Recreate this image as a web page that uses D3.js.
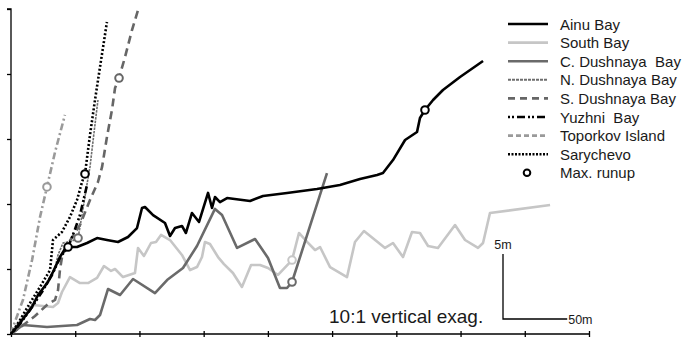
<!DOCTYPE html>
<html><head><meta charset="utf-8">
<script src="https://cdn.jsdelivr.net/npm/d3@7"></script>
<style>
body{margin:0;background:#fff}
svg{display:block}
text{font-family:"Liberation Sans",Arial,Helvetica,sans-serif;fill:#1a1a1a}
</style>
</head><body>
<svg id="chart" width="688" height="337"></svg>
<script>
// ---- data (distance in m, elevation in m) ----
const xTicks = [0, 50, 100, 150, 200, 250, 300, 350, 400, 450];
const yTicks = [0, 5, 10, 15, 20, 25];
const seriesNames = ["Ainu Bay", "South Bay", "C. Dushnaya  Bay", "N. Dushnaya Bay",
                     "S. Dushnaya Bay", "Yuzhni  Bay", "Toporkov Island", "Sarychevo"];

const ainuDist = [0, 7.0, 16.4, 21, 28.8, 32.7, 38.1, 42, 45.9, 51.4, 59.2, 67, 74.7, 83.3, 91.1, 98.1, 102, 104.3, 110.6, 119.9, 123.8, 127.7, 133.1, 136.2, 140.9, 146.4, 153.4, 156.5, 158.8, 162.7, 168.2, 186.1, 196.2, 214.9, 238.2, 256.1, 271.7, 285, 289.6, 297.4, 306.8, 316.1, 318.4, 322.3, 328.6, 336.3, 349.6, 367.5];
const ainuElev = [0, 0.85, 2.08, 3.0, 4.0, 4.77, 5.92, 6.54, 6.69, 6.69, 7.0, 7.38, 7.23, 7.08, 7.46, 8.15, 9.69, 9.77, 9.15, 8.54, 7.54, 8.15, 8.31, 7.77, 9.31, 8.62, 10.85, 9.69, 10.54, 10.15, 10.46, 10.23, 10.62, 10.85, 11.15, 11.46, 11.92, 12.23, 12.38, 13.38, 14.92, 15.54, 16.62, 17.23, 18.0, 18.77, 19.77, 21.0];

const southDist = [0, 8.6, 17.1, 32.7, 36.6, 39.7, 45.9, 53.7, 60, 67, 72.4, 77.9, 81, 87.2, 96.5, 98.9, 103.5, 109, 112.9, 116.8, 123.8, 133.1, 139.4, 144.8, 148.7, 151, 154.9, 161.2, 165.8, 172.8, 179.8, 186.9, 193.9, 200.1, 207.9, 218.8, 224.2, 230.5, 236.7, 240.6, 248.4, 261.6, 267.8, 274.8, 291.2, 297.4, 305.2, 312.2, 318.4, 324.7, 332.4, 345.7, 353.5, 363.6, 367.5, 372.9, 419.7];
const southElev = [0, 1.23, 2.23, 2.08, 2.38, 3.23, 4.38, 3.92, 3.92, 4.31, 5.23, 4.85, 5.0, 4.38, 4.69, 6.62, 6.0, 7.0, 7.08, 7.62, 7.23, 6.08, 4.92, 5.15, 5.92, 7.08, 6.92, 5.92, 5.38, 4.69, 3.62, 5.31, 5.31, 5.08, 4.54, 5.69, 7.77, 7.08, 6.46, 6.69, 5.15, 4.38, 7.08, 7.92, 6.62, 7.0, 5.92, 7.85, 7.77, 6.77, 6.62, 8.38, 7.23, 6.62, 7.0, 9.31, 9.92];

const cDushDist = [0, 9.3, 28, 51.4, 61.5, 65.4, 69.3, 75.5, 84.9, 95, 112.1, 121.5, 133.9, 144.8, 158.8, 164.3, 176, 190, 200.1, 209.4, 214.9, 218.8, 246];
const cDushElev = [0, 0.69, 0.54, 0.69, 1.15, 1.08, 1.46, 3.46, 3.0, 4.23, 3.15, 4.15, 5.08, 6.77, 9.62, 9.15, 6.62, 7.31, 5.85, 3.54, 3.54, 4.0, 12.38];

const nDushDist = [0, 7.0, 17.1, 26.5, 34.3, 36.6, 40.5, 47.5, 52.2, 55.3, 58.4, 61.5, 64.6, 67.7];
const nDushElev = [0, 0.92, 2.38, 3.77, 5.08, 6.08, 7.0, 7.15, 7.38, 9.15, 11.08, 12.85, 15.46, 18.0];

const sDushDist = [0, 8.6, 18.7, 28.8, 34.3, 36.6, 38.1, 39.7, 42.8, 53.7, 61.5, 67.7, 70.9, 74.7, 78.6, 81, 84.1, 88.8, 94.2, 98.9];
const sDushElev = [0, 0.62, 1.38, 2.31, 2.62, 3.38, 4.92, 5.92, 6.69, 8.38, 10.31, 11.69, 12.85, 15.15, 17.23, 18.92, 19.69, 21.31, 23.38, 24.92];

const yuzhniDist = [0, 7.0, 14.8, 24.1, 31.9, 38.1, 44.4, 49.1, 53.7, 56.8, 59.2];
const yuzhniElev = [0, 0.77, 1.85, 3.23, 4.54, 5.85, 6.69, 7.85, 9.15, 10.46, 11.46];

const toporkovDist = [0, 1.6, 9.3, 16.4, 22.6, 28, 34.3, 42];
const toporkovElev = [0, 0.54, 2.62, 5.69, 9.0, 11.31, 14.0, 16.85];

const sarychevoDist = [0, 7.0, 14.8, 22.6, 30.4, 32.7, 39.7, 45.9, 51.4, 55.3, 57.6, 61.5, 65.4, 69.3, 74.7];
const sarychevoElev = [0, 1.08, 2.38, 3.62, 4.92, 7.23, 7.85, 9.0, 10.31, 11.69, 12.31, 15.31, 18.0, 20.54, 24.0];

// max runup points, in seriesNames order
const runupDist = [322.3, 218.8, 218.8, 52.2, 84.1, 44.4, 28, 57.6];
const runupElev = [17.23, 5.69, 4.0, 7.38, 19.69, 6.69, 11.31, 12.31];

const scaleBarDist = 50, scaleBarElev = 5;
const annotation = "10:1 vertical exag.";

// ---- styles ----
const styles = [
  {color: "#000000", width: 2.6, dash: null},
  {color: "#c6c6c6", width: 2.6, dash: null},
  {color: "#6a6a6a", width: 2.6, dash: null},
  {color: "#6e6e6e", width: 1.6, dash: "2.5,1"},
  {color: "#666666", width: 2.6, dash: "8,5"},
  {color: "#000000", width: 2.6, dash: "2,2,2,3,7,3"},
  {color: "#9a9a9a", width: 2.6, dash: "7,3,2,3"},
  {color: "#000000", width: 2.6, dash: "2,2"}
];
const legendStyles = [
  null, null, null,
  {width: 2, dash: "3,1"},
  {width: 2.6, dash: "7,5"},
  {width: 2.6, dash: "2,2,2,3,8,3"},
  {width: 2.6, dash: "5,3"},
  {width: 2.6, dash: "2,1.5"}
];
const seriesData = [
  [ainuDist, ainuElev], [southDist, southElev], [cDushDist, cDushElev], [nDushDist, nDushElev],
  [sDushDist, sDushElev], [yuzhniDist, yuzhniElev], [toporkovDist, toporkovElev], [sarychevoDist, sarychevoElev]
];

const svg = d3.select("#chart");
const x = d3.scaleLinear().domain([0, 450]).range([11, 589]);
const y = d3.scaleLinear().domain([0, 25]).range([334, 9]);

// axes
const yAxis = svg.append("g").attr("transform", `translate(${x(0)},0)`)
  .call(d3.axisLeft(y).tickValues(yTicks).tickSize(4).tickFormat(""));
yAxis.select(".domain").attr("d", `M-4,${y(25)}H0V${y(0)}`).attr("stroke", "#000").attr("stroke-width", 1.3);
yAxis.selectAll(".tick line").attr("stroke-width", 1.3);

const xAxis = svg.append("g").attr("transform", `translate(0,${y(0)})`)
  .call(d3.axisBottom(x).tickValues(xTicks).tickSize(4).tickFormat(""));
xAxis.select(".domain").attr("d", `M${x(0)},0H${x(450)}`).attr("stroke", "#000").attr("stroke-width", 1.3);
xAxis.selectAll(".tick line").attr("y1", -3).attr("y2", 4).attr("stroke-width", 1.3);

// lines
const line = d3.line().x(d => x(d[0])).y(d => y(d[1]));
const drawOrder = [1, 2, 6, 4, 3, 7, 5, 0];
drawOrder.forEach(i => {
  const [xs, ys] = seriesData[i];
  const pts = xs.map((v, k) => [v, ys[k]]);
  const p = svg.append("path").datum(pts).attr("d", line)
    .attr("fill", "none").attr("stroke", styles[i].color)
    .attr("stroke-width", styles[i].width).attr("stroke-linejoin", "round");
  if (styles[i].dash) p.attr("stroke-dasharray", styles[i].dash);
});

// runup circles
svg.append("g").selectAll("circle").data(runupDist).join("circle")
  .attr("cx", (d, i) => x(d)).attr("cy", (d, i) => y(runupElev[i])).attr("r", 3.8)
  .attr("fill", "#fff").attr("stroke", (d, i) => styles[i].color).attr("stroke-width", 2);

// legend
const lg = svg.append("g");
const lx0 = 508, lx1 = 548, ly0 = 24, ldy = 18.6;
seriesNames.forEach((name, i) => {
  const yy = ly0 + i * ldy;
  const ls = legendStyles[i] || styles[i];
  const l = lg.append("line").attr("x1", lx0).attr("x2", lx1).attr("y1", yy).attr("y2", yy)
    .attr("stroke", styles[i].color).attr("stroke-width", ls.width);
  if (ls.dash) l.attr("stroke-dasharray", ls.dash);
  lg.append("text").attr("x", 560).attr("y", yy + 5.5).attr("font-size", 15)
    .style("white-space", "pre").text(name);
});
const ry = ly0 + 8 * ldy;
lg.append("circle").attr("cx", 527).attr("cy", ry).attr("r", 3.3)
  .attr("fill", "#fff").attr("stroke", "#000").attr("stroke-width", 2);
lg.append("text").attr("x", 560).attr("y", ry + 5.5).attr("font-size", 15).text("Max. runup");

// annotation
svg.append("text").attr("x", 329).attr("y", 323).attr("font-size", 19).text(annotation);

// scale bar (5 m vertical, 50 m horizontal)
const sbx = 503, sby = 319;
const sbw = x(scaleBarDist) - x(0), sbh = y(0) - y(scaleBarElev);
svg.append("path").attr("d", `M${sbx},${sby - sbh}V${sby}H${sbx + sbw}`)
  .attr("fill", "none").attr("stroke", "#000").attr("stroke-width", 1.3);
svg.append("text").attr("x", sbx).attr("y", sby - sbh - 5).attr("text-anchor", "middle")
  .attr("font-size", 12.5).text(scaleBarElev + "m");
svg.append("text").attr("x", sbx + sbw + 1).attr("y", sby + 4.5).attr("font-size", 12.5).text(scaleBarDist + "m");
</script>
</body></html>
